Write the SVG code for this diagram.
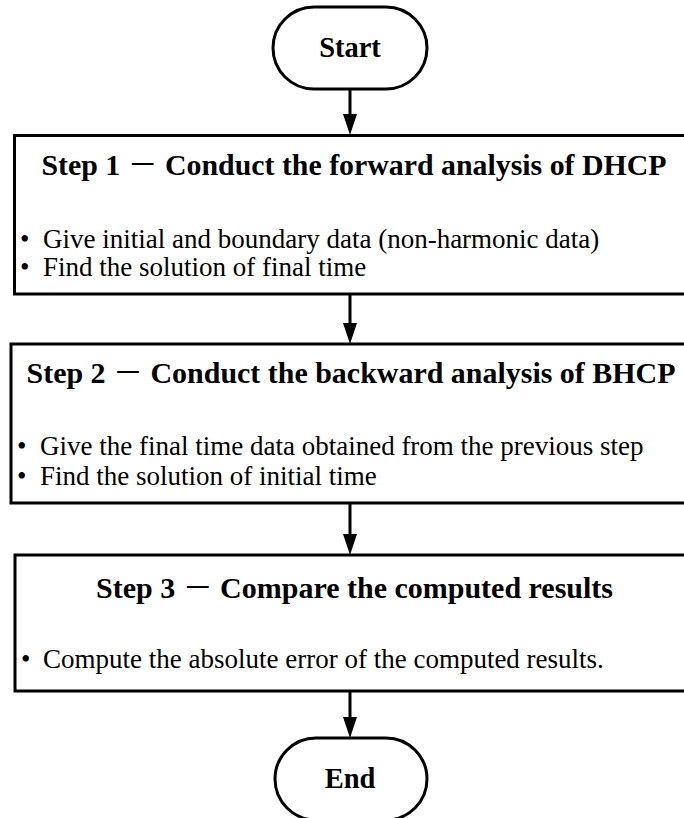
<svg xmlns="http://www.w3.org/2000/svg" width="684" height="818" viewBox="0 0 684 818">
<defs>
<style>
.shape{fill:#fff;stroke:#000;stroke-width:3}
.title{font-family:"Liberation Serif","Noto Sans CJK SC",serif;font-weight:bold;font-size:30px;fill:#000;text-anchor:middle}
.term{font-family:"Liberation Serif",serif;font-weight:bold;font-size:28.5px;fill:#000;text-anchor:middle}
.dash{font-weight:normal}
.body{font-family:"Liberation Serif","Noto Sans CJK SC",serif;font-size:27px;fill:#000}
.conn{stroke:#000;stroke-width:3;fill:none}
.head{fill:#000;stroke:none}
</style>
</defs>
<rect width="684" height="818" fill="#fff"/>
<g id="connectors">
<line class="conn" x1="350" y1="89" x2="350" y2="116"/>
<polygon class="head" points="343,114 357,114 350,135"/>
<line class="conn" x1="350" y1="294" x2="350" y2="325"/>
<polygon class="head" points="343,323 357,323 350,344"/>
<line class="conn" x1="350" y1="503" x2="350" y2="536"/>
<polygon class="head" points="343,534 357,534 350,555"/>
<line class="conn" x1="350" y1="691" x2="350" y2="719"/>
<polygon class="head" points="343,717 357,717 350,738"/>
</g>
<g id="start">
<rect class="shape" x="273" y="7" width="154" height="82" rx="41" ry="41"/>
<text class="term" x="350" y="57">Start</text>
</g>
<g id="step1">
<rect class="shape" x="14.5" y="135.5" width="680" height="158.5"/>
<text class="title" x="354" y="175" textLength="625" lengthAdjust="spacingAndGlyphs">Step 1 <tspan class="dash">－</tspan> Conduct the forward analysis of DHCP</text>
<text class="body" y="248"><tspan x="20">•</tspan><tspan x="43">Give initial and boundary data (non-harmonic data)</tspan></text>
<text class="body" y="276"><tspan x="20">•</tspan><tspan x="43">Find the solution of final time</tspan></text>
</g>
<g id="step2">
<rect class="shape" x="11" y="344" width="684" height="159"/>
<text class="title" x="351" y="383" textLength="649" lengthAdjust="spacingAndGlyphs">Step 2 <tspan class="dash">－</tspan> Conduct the backward analysis of BHCP</text>
<text class="body" y="455"><tspan x="17">•</tspan><tspan x="40">Give the final time data obtained from the previous step</tspan></text>
<text class="body" y="485"><tspan x="17">•</tspan><tspan x="40">Find the solution of initial time</tspan></text>
</g>
<g id="step3">
<rect class="shape" x="15" y="555" width="680" height="136"/>
<text class="title" x="354.5" y="598" textLength="517" lengthAdjust="spacingAndGlyphs">Step 3 <tspan class="dash">－</tspan> Compare the computed results</text>
<text class="body" y="668"><tspan x="21">•</tspan><tspan x="43">Compute the absolute error of the computed results.</tspan></text>
</g>
<g id="end">
<rect class="shape" x="275" y="738" width="152" height="82" rx="41" ry="41"/>
<text class="term" x="350" y="788">End</text>
</g>
</svg>
